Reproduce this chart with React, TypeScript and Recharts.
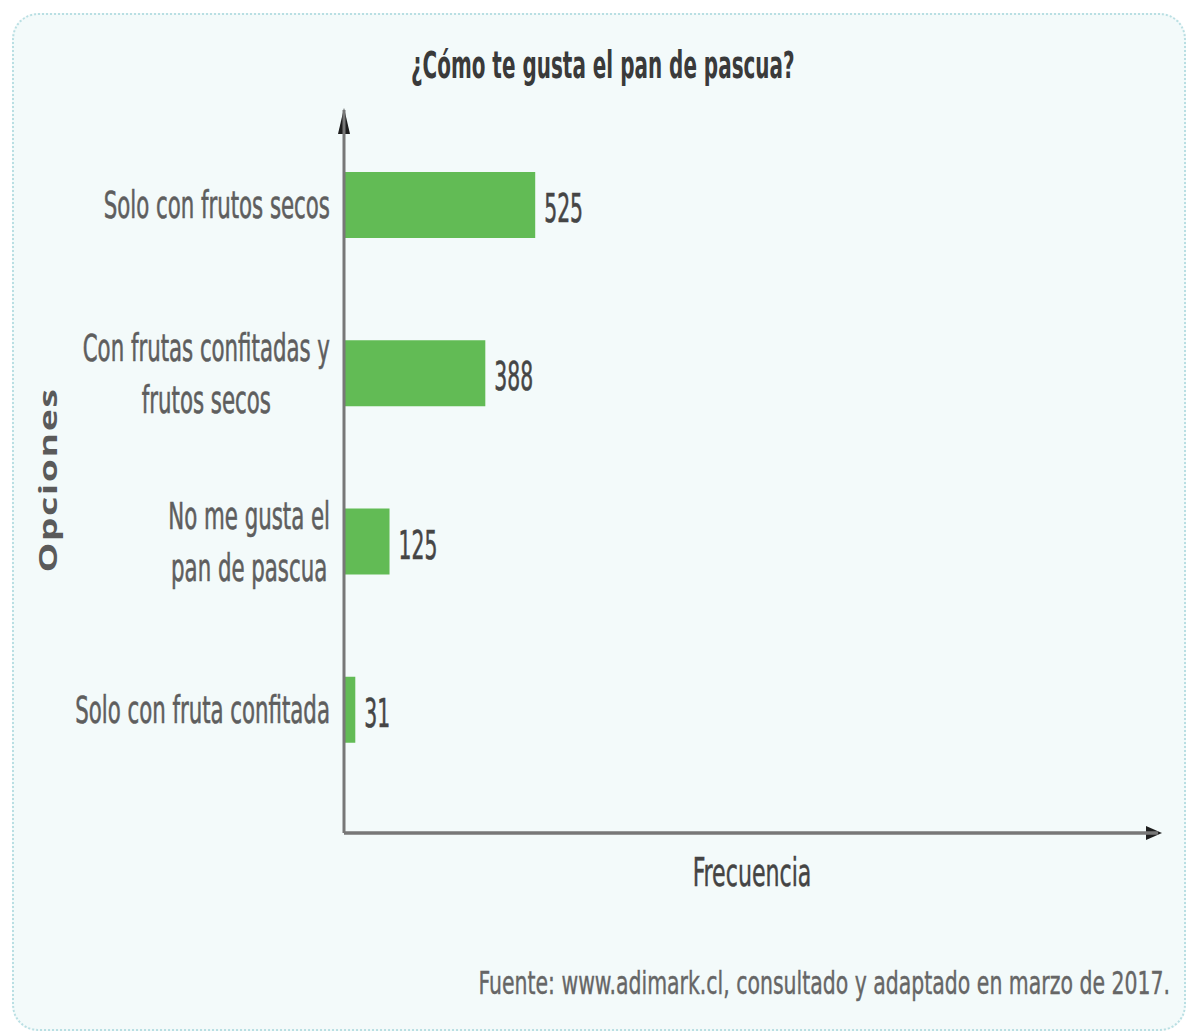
import { BarChart, Bar, XAxis, YAxis, LabelList, Customized, usePlotArea } from "recharts";

const OPTIONS = [
  "Solo con frutos secos",
  "Con frutas confitadas y\nfrutos secos",
  "No me gusta el\npan de pascua",
  "Solo con fruta confitada",
];
const FREQUENCY = [525, 388, 125, 31];
const X_MAX = 2235;

const TITLE = "¿Cómo te gusta el pan de pascua?";
const X_LABEL = "Frecuencia";
const Y_LABEL = "Opciones";
const SOURCE = "Fuente: www.adimark.cl, consultado y adaptado en marzo de 2017.";

const data = OPTIONS.map((label, i) => ({ label, value: FREQUENCY[i] }));

const FONT = "'DejaVu Sans Condensed', 'Liberation Sans Narrow', sans-serif";
const GREEN = "#62bb55";
const AXIS = "#777";
// the source picture is squeezed sideways, so the text is narrowed to match
const SQUEEZE = 0.64;

let ctx: CanvasRenderingContext2D | null = null;
function measure(text: string, size: number) {
  if (!ctx) ctx = document.createElement("canvas").getContext("2d");
  if (!ctx) return text.length * size * 0.5;
  ctx.font = `${size}px ${FONT}`;
  return ctx.measureText(text).width;
}

function OptionTick({ x, y, payload }: any) {
  const size = 37;
  const lines: string[] = String(payload.value).split("\n");
  const w = Math.max(...lines.map((l) => measure(l, size))) * SQUEEZE;
  const cx = x - w / 2;
  const lh = 52;
  const start = y - ((lines.length - 1) * lh) / 2;
  return (
    <g>
      {lines.map((l, i) => (
        <text key={i} transform={`translate(${cx},${start + i * lh}) scale(${SQUEEZE},1)`}
          dy="0.36em" textAnchor="middle" fill="#5e5e5e" stroke="#5e5e5e" strokeWidth={0.6}
          fontSize={size} fontFamily={FONT}>
          {l}
        </text>
      ))}
    </g>
  );
}

function ValueLabel({ x, y, width, height, value }: any) {
  return (
    <text transform={`translate(${x + width + 9},${y + height / 2 + 3}) scale(0.58,1)`}
      dy="0.36em" fill="#454545" stroke="#454545" strokeWidth={0.6} fontSize={39} fontFamily={FONT}>
      {value}
    </text>
  );
}

function Arrows() {
  const p = usePlotArea();
  if (!p) return null;
  const left = p.x;
  const top = p.y;
  const bottom = p.y + p.height;
  const right = p.x + p.width;
  return (
    <g fill="#1e1e1e">
      <polygon points={`${left - 6},${top + 24} ${left},${top - 2} ${left + 6},${top + 24}`} />
      <polygon points={`${right - 12},${bottom - 7} ${right + 4},${bottom} ${right - 12},${bottom + 7}`} />
    </g>
  );
}

const scaled = (s: number) => ({ display: "inline-block", transform: `scale(${s},1)` });

export default function App() {
  return (
    <div style={{ position: "absolute", left: 0, top: 0, width: 1188, height: 1036, background: "#fff", fontFamily: FONT }}>
      <div style={{
        position: "absolute", left: 12, top: 13, width: 1170, height: 1014,
        border: "2px dotted #b9dfe3", borderRadius: 26, background: "#f3fafa",
      }} />
      <div style={{ position: "absolute", left: 0, top: 44, width: 1205, textAlign: "center", fontSize: 37, fontWeight: 700, color: "#3a3a3a", whiteSpace: "nowrap" }}>
        <span style={scaled(0.6)}>{TITLE}</span>
      </div>
      <BarChart
        width={1188}
        height={1036}
        data={data}
        layout="vertical"
        margin={{ top: 110, right: 30, bottom: 202, left: 0 }}
        barSize={66}
        style={{ position: "absolute", left: 0, top: 0 }}
      >
        <XAxis
          type="number"
          domain={[0, X_MAX]}
          allowDataOverflow
          tick={false}
          tickLine={false}
          height={1}
          axisLine={{ stroke: AXIS, strokeWidth: 3.5 }}
        />
        <YAxis
          type="category"
          dataKey="label"
          width={344}
          tickLine={false}
          tickSize={0}
          tickMargin={14}
          padding={{ top: 11, bottom: 39 }}
          axisLine={{ stroke: AXIS, strokeWidth: 3 }}
          tick={<OptionTick />}
          interval={0}
        />
        <Bar dataKey="value" fill={GREEN} isAnimationActive={false}>
          <LabelList dataKey="value" content={<ValueLabel />} />
        </Bar>
        <Customized component={<Arrows />} />
      </BarChart>
      <div style={{
        position: "absolute", left: 47, top: 480, transform: "translate(-50%, -50%) rotate(-90deg) scale(1.5, 1)",
        fontFamily: "'Open Sans', sans-serif", fontWeight: 700, fontSize: 25, letterSpacing: 1, color: "#5a5a5a",
        whiteSpace: "nowrap",
      }}>
        {Y_LABEL}
      </div>
      <div style={{ position: "absolute", left: 752, top: 872, transform: "translate(-50%, -50%)", fontSize: 39, color: "#444", whiteSpace: "nowrap", WebkitTextStroke: "0.5px #444" }}>
        <span style={scaled(0.63)}>{X_LABEL}</span>
      </div>
      <div style={{ position: "absolute", right: 18, top: 983, transform: "translateY(-50%)", fontSize: 32, color: "#666", whiteSpace: "nowrap", WebkitTextStroke: "0.4px #666" }}>
        <span style={{ display: "inline-block", transform: "scale(0.71,1)", transformOrigin: "right center" }}>{SOURCE}</span>
      </div>
    </div>
  );
}
